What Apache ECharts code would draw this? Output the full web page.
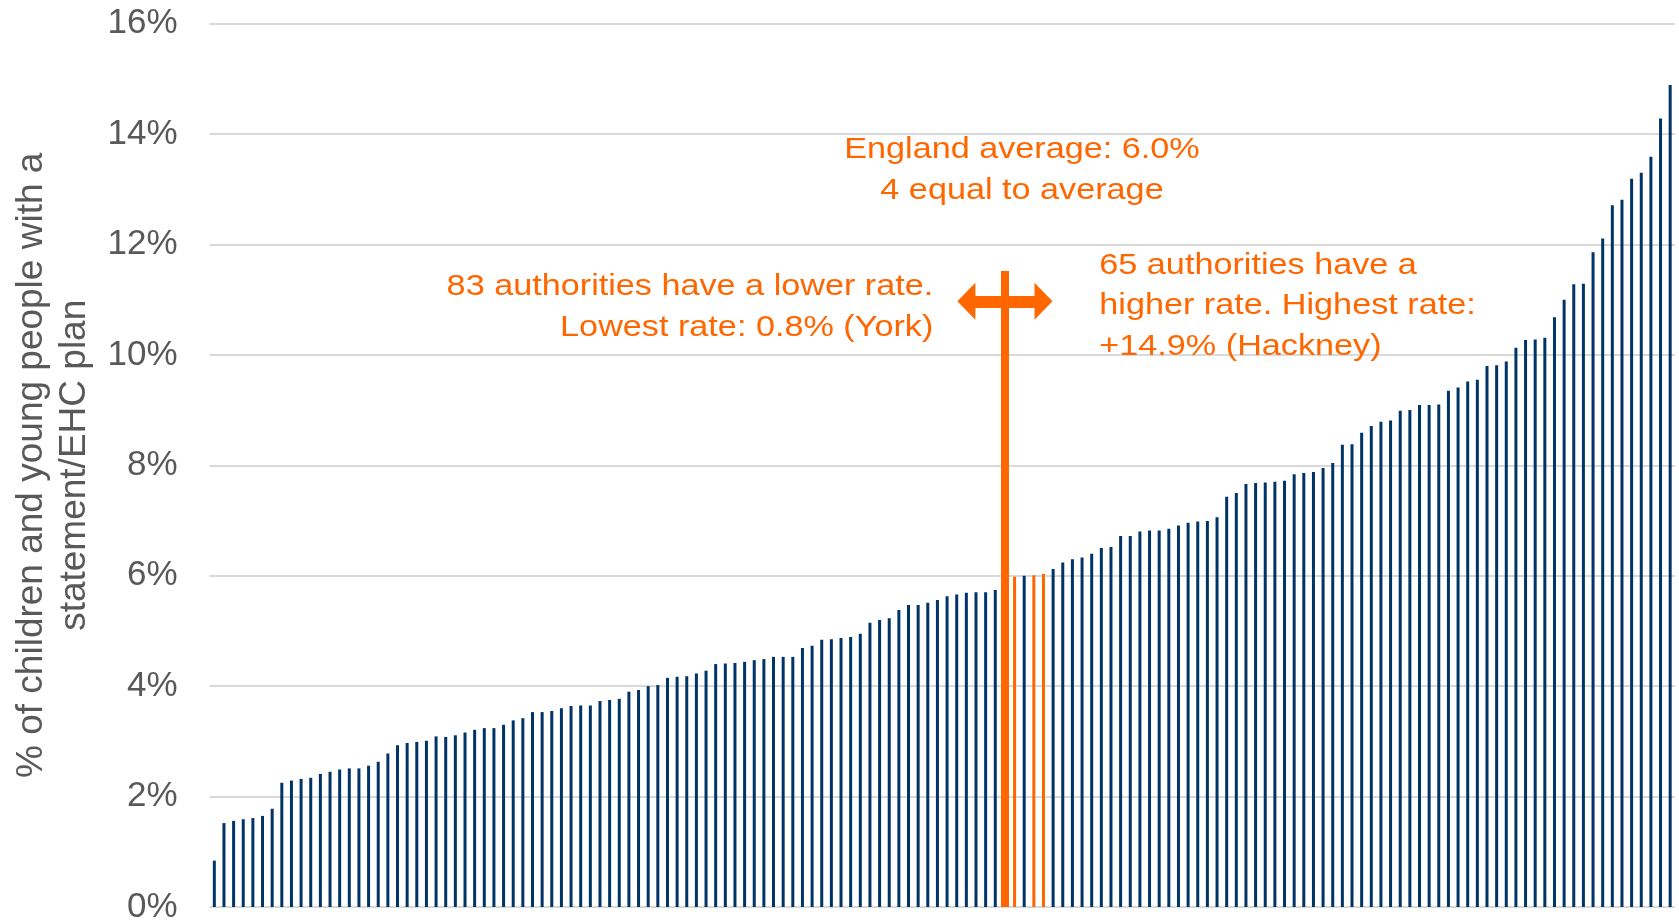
<!DOCTYPE html>
<html>
<head>
<meta charset="utf-8">
<title>EHC plan rates by local authority</title>
<script src="https://cdn.jsdelivr.net/npm/echarts@6/dist/echarts.min.js"></script>
<style>
    html, body { margin: 0; padding: 0; background: #fff; }
    #chart { width: 1679px; height: 923px; }
</style>
</head>
<body>
<div id="chart"></div>
<script>
// % of children and young people with a statement/EHC plan, one bar per authority, sorted
var rates = [
    0.84,
    1.52, 1.56, 1.59, 1.61, 1.65, 1.78,
    2.25, 2.29, 2.32, 2.34, 2.41, 2.45, 2.49, 2.51, 2.51, 2.56, 2.63, 2.78,
    2.93, 2.97, 2.99, 3.01, 3.09, 3.08, 3.11, 3.16, 3.21, 3.24, 3.24, 3.30, 3.38, 3.42, 3.53, 3.53, 3.55, 3.60, 3.64, 3.65, 3.65, 3.73,
    3.75, 3.77, 3.90, 3.93, 4.00, 4.02, 4.15, 4.17, 4.18, 4.23, 4.28, 4.40, 4.41, 4.42, 4.44, 4.47, 4.49, 4.53, 4.53, 4.53, 4.69, 4.73,
    4.84, 4.85, 4.87, 4.89, 4.95, 5.15, 5.20, 5.23, 5.38, 5.47, 5.47, 5.51, 5.56, 5.63, 5.66, 5.69, 5.70, 5.70, 5.74,
    5.96, 5.98, 6.00, 6.01, 6.03,
    6.12, 6.24, 6.30, 6.33, 6.40, 6.50, 6.52, 6.72, 6.72, 6.80, 6.82, 6.82, 6.85, 6.91, 6.96, 6.98, 6.99, 7.06, 7.43,
    7.50, 7.66, 7.68, 7.69, 7.70, 7.72, 7.84, 7.86, 7.88, 7.95, 8.04, 8.37, 8.38, 8.59, 8.71, 8.79, 8.81, 8.99, 9.00, 9.09, 9.09, 9.10,
    9.35, 9.41, 9.52, 9.55, 9.80, 9.81, 9.88, 10.13, 10.27, 10.28, 10.31, 10.68, 11.00, 11.28, 11.29, 11.86, 12.11, 12.71, 12.81, 13.19, 13.30, 13.59, 14.28, 14.89
];
// bars drawn orange (equal to the England average)
var averageBars = [82, 83, 85, 86];
var yTicks = [0, 2, 4, 6, 8, 10, 12, 14, 16];

var categories = [];
rates.forEach(function (v, i) {
    categories.push(String(i + 1));
});

var NAVY = '#003366';
var ORANGE = '#ff6600';
var GREY = '#595959';

// marker: stem at the average bar, double arrow across it
var stemIndex = 82;
var stemTop = 11.52;
var arrowY = 10.97;
var arrowFrom = 78, arrowTo = 86;

var myChart = echarts.init(document.getElementById('chart'));

function note(text, x, y, align) {
    return {
        type: 'text',
        x: x,
        y: y,
        scaleX: 1.14,
        silent: true,
        z: 100,
        style: {
            text: text,
            fill: ORANGE,
            font: '30px "Liberation Sans", Arial, sans-serif',
            textAlign: align,
            textVerticalAlign: 'middle'
        }
    };
}

var option = {
    animation: false,
    backgroundColor: '#fff',
    grid: {
        left: 209.5,
        right: 4,
        top: 23.6,
        bottom: 16,
        outerBoundsMode: 'none'
    },
    xAxis: {
        type: 'category',
        data: categories,
        axisLine: { show: false },
        axisTick: { show: false },
        axisLabel: { show: false },
        splitLine: { show: false }
    },
    yAxis: {
        type: 'value',
        min: yTicks[0],
        max: yTicks[yTicks.length - 1],
        interval: 2,
        axisLine: { show: false },
        axisTick: { show: false },
        axisLabel: {
            formatter: '{value}%',
            color: GREY,
            fontSize: 35,
            fontFamily: 'Liberation Sans',
            margin: 32
        },
        splitLine: {
            lineStyle: { color: '#d9d9d9', width: 2 }
        },
        name: '% of children and young people with a\nstatement/EHC plan',
        nameLocation: 'middle',
        nameRotate: 90,
        nameGap: 112,
        nameTextStyle: {
            color: GREY,
            fontSize: 37,
            lineHeight: 43,
            fontFamily: 'Liberation Sans'
        }
    },
    series: [{
        type: 'bar',
        barWidth: 3,
        data: rates,
        itemStyle: {
            color: function (params) {
                return averageBars.indexOf(params.dataIndex) >= 0 ? ORANGE : NAVY;
            }
        },
        markLine: {
            silent: true,
            animation: false,
            label: { show: false },
            emphasis: { disabled: true },
            data: [
                [
                    { coord: [stemIndex, 0], symbol: 'none', lineStyle: { color: ORANGE, width: 8, type: 'solid' } },
                    { coord: [stemIndex, stemTop], symbol: 'none' }
                ],
                [
                    { coord: [arrowFrom, arrowY], symbol: 'triangle', symbolSize: [37, 18], lineStyle: { color: ORANGE, width: 12, type: 'solid' }, itemStyle: { color: ORANGE } },
                    { coord: [arrowTo, arrowY], symbol: 'triangle', symbolSize: [37, 18] }
                ]
            ]
        }
    }],
    graphic: [
        note('England average: 6.0%', 1022, 149.6, 'center'),
        note('4 equal to average', 1022, 190.6, 'center'),
        note('83 authorities have a lower rate.', 933.3, 286.3, 'right'),
        note('Lowest rate: 0.8% (York)', 933.3, 327.3, 'right'),
        note('65 authorities have a', 1099.3, 265.6, 'left'),
        note('higher rate. Highest rate:', 1099.3, 305.6, 'left'),
        note('+14.9% (Hackney)', 1099.3, 346.9, 'left')
    ]
};

myChart.setOption(option);
window.addEventListener('resize', function () {
    myChart.resize();
});
</script>
</body>
</html>
